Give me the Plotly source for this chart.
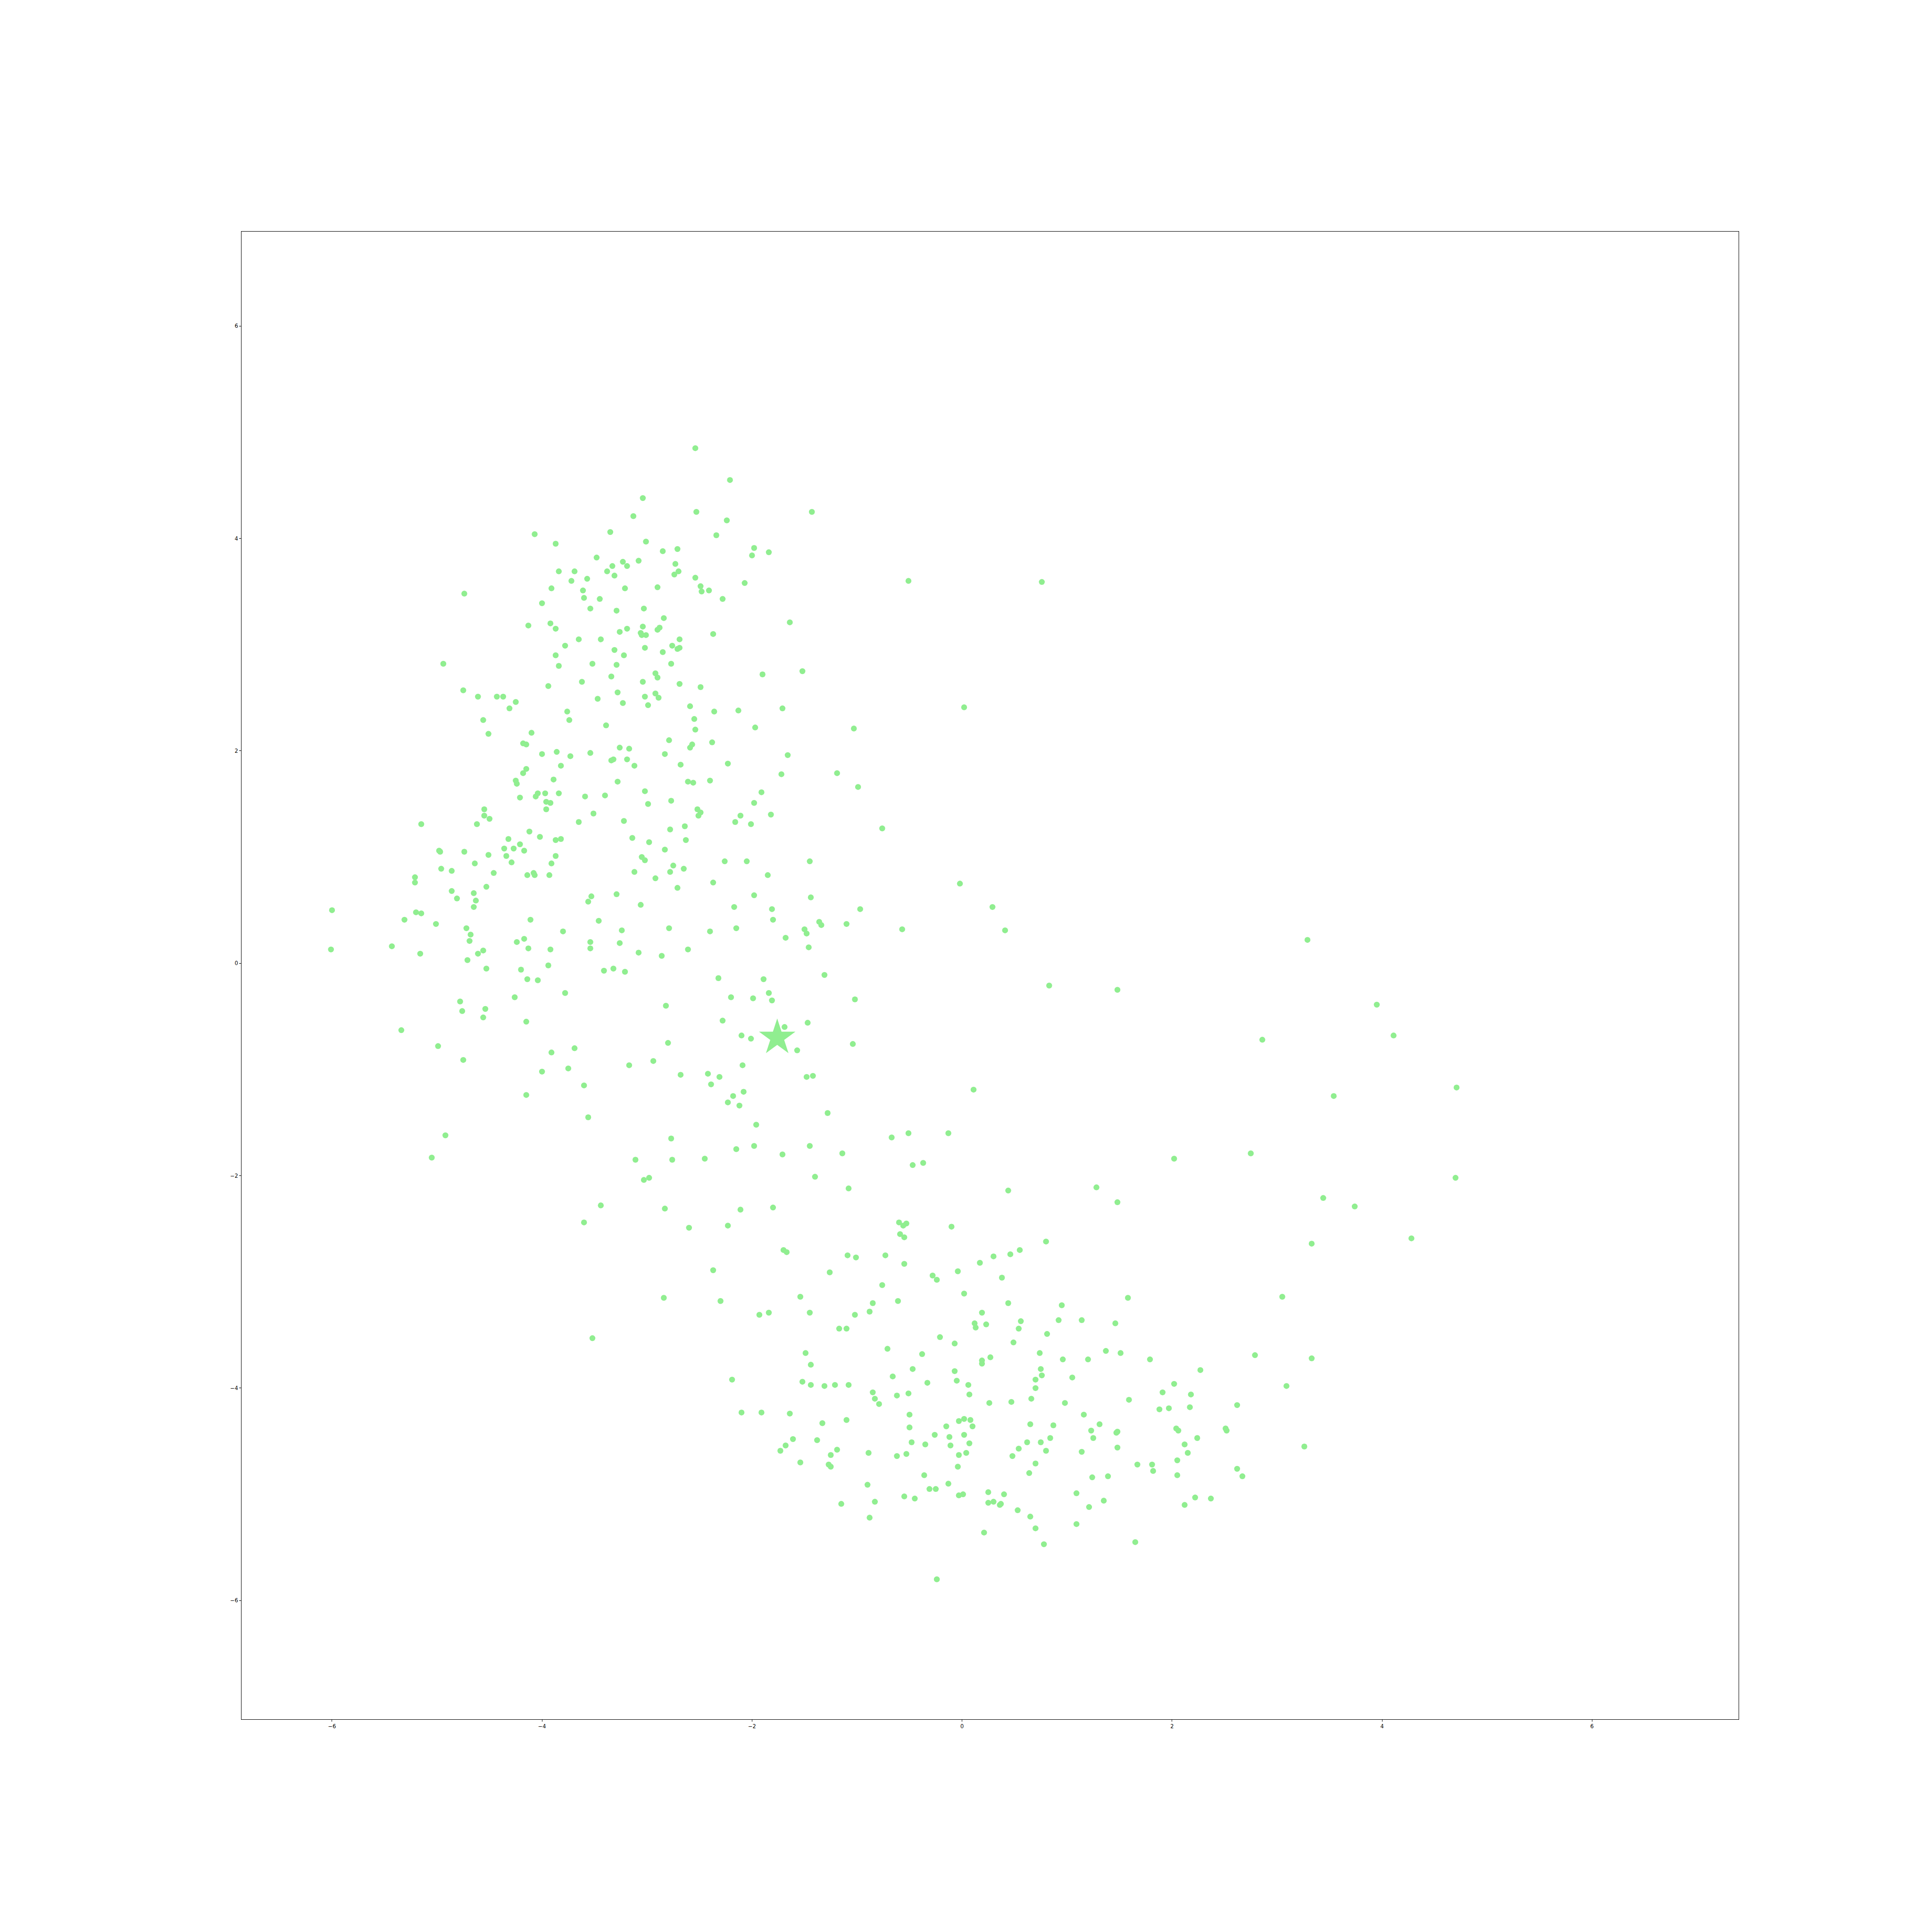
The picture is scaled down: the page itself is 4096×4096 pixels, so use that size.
import plotly.graph_objects as go

# ---- data ----
upper_left_top = [
    (-2.54,4.85),(-3.04,4.38),(-3.13,4.21),(-3.35,4.06),(-4.07,4.04),(-3.01,3.97),(-3.87,3.95),(-2.71,3.90),(-2.85,3.88),(-3.48,3.82),
    (-3.23,3.78),(-3.08,3.79),(-3.19,3.74),(-3.33,3.74),(-2.73,3.76),(-3.38,3.69),(-3.84,3.69),(-3.69,3.69),(-2.70,3.69),(-3.31,3.65),
    (-2.74,3.66),(-3.57,3.62),(-3.72,3.60),(-2.54,3.63),(-2.90,3.54),(-3.91,3.53),(-3.61,3.51),(-3.21,3.53),(-4.74,3.48),(-3.60,3.44),
    (-3.45,3.43),(-4.00,3.39),(-3.54,3.34),(-3.29,3.32),(-3.03,3.34),(-2.84,3.25),(-4.13,3.18),(-3.92,3.20),(-3.87,3.15),(-3.04,3.17),
    (-3.19,3.15),(-2.88,3.16),(-2.90,3.14),(-3.06,3.11),(-3.05,3.09),(-3.01,3.09),(-3.26,3.12),(-3.65,3.05),(-3.44,3.05),(-2.69,3.05),
    (-3.78,2.99),(-2.76,2.99),(-2.71,2.96),(-2.69,2.97),(-3.02,2.97),(-3.31,2.95),(-2.85,2.93),(-3.22,2.90),(-3.87,2.90),(-4.94,2.82),
    (-3.52,2.82),(-3.29,2.81),(-2.77,2.82),(-3.84,2.80),(-2.92,2.73),(-2.90,2.69),(-3.34,2.70),(-3.62,2.65),(-3.04,2.65),(-2.69,2.63),
    (-3.94,2.61),(-4.75,2.57),(-3.28,2.55),(-2.92,2.54),(-4.61,2.51),(-4.43,2.51),(-4.37,2.51),(-3.02,2.51),(-2.89,2.50),(-3.47,2.49),
    (-4.25,2.46),(-3.23,2.45),(-2.99,2.43),(-2.59,2.42),(-4.31,2.40),(-3.76,2.37),(-2.55,2.30),(-3.74,2.29),(-4.56,2.29),(-3.39,2.24),
    (-2.54,2.20),(-4.51,2.16),(-4.10,2.17),(-2.79,2.10),(-4.18,2.07),(-4.15,2.06),(-2.57,2.06),(-2.59,2.03),(-3.26,2.03),(-3.17,2.02),
    (-4.00,1.97),(-3.86,1.99),(-3.73,1.95),(-3.54,1.98),(-2.83,1.97),(-3.34,1.91),(-3.32,1.92),(-3.19,1.92),(-3.82,1.86),(-3.12,1.86),
    (-2.68,1.87),(-4.15,1.83),(-4.18,1.79),(-3.89,1.73),(-4.25,1.72),(-4.24,1.69),(-3.28,1.71),(-2.61,1.71),(-2.56,1.70),(-3.02,1.62),
    (-4.04,1.60),(-3.97,1.60),(-4.06,1.57),(-3.84,1.60),(-4.21,1.56),(-3.59,1.57),(-3.40,1.58),(-2.77,1.53),(-3.96,1.52),(-3.92,1.51),
    (-2.99,1.50),(-4.55,1.45),(-3.96,1.45),(-3.51,1.41),(-4.55,1.39),
]
upper_right_top = [
    (-2.21,4.55),(-2.53,4.25),(-1.43,4.25),(-2.24,4.17),(-2.34,4.03),(-1.98,3.91),(-1.84,3.87),(-2.00,3.84),(-2.49,3.55),(-2.41,3.51),
    (-2.48,3.50),(-2.07,3.58),(-0.51,3.60),(0.76,3.59),(-2.28,3.43),(-1.64,3.21),(-2.37,3.10),(-1.52,2.75),(-1.90,2.72),(-2.49,2.60),
    (-2.36,2.37),(-2.13,2.38),(-1.71,2.40),(0.02,2.41),(-1.97,2.22),(-1.03,2.21),(-2.38,2.08),(-1.66,1.96),(-2.23,1.88),(-2.40,1.72),
    (-1.72,1.78),(-1.19,1.79),(-0.99,1.66),(-1.91,1.61),(-1.98,1.51),(-2.52,1.45),(-2.49,1.42),(-2.51,1.39),(-2.11,1.39),(-1.82,1.40),
]
upper_left_mid = [
    (-5.15,1.31),(-4.62,1.31),(-4.50,1.36),(-3.65,1.33),(-3.22,1.34),(-2.78,1.26),(-2.64,1.29),(-4.12,1.24),(-4.02,1.19),(-4.32,1.17),
    (-3.87,1.16),(-3.82,1.17),(-3.14,1.18),(-2.63,1.16),(-2.98,1.14),(-4.21,1.12),(-4.36,1.08),(-4.27,1.08),(-4.17,1.06),(-4.98,1.06),
    (-4.97,1.05),(-4.74,1.05),(-4.51,1.02),(-2.83,1.07),(-4.34,1.01),(-3.87,1.01),(-3.05,1.00),(-3.02,0.97),(-4.29,0.95),(-4.64,0.94),
    (-3.91,0.94),(-2.75,0.92),(-4.96,0.89),(-4.86,0.87),(-4.46,0.85),(-4.08,0.85),(-4.07,0.83),(-4.14,0.83),(-3.93,0.83),(-3.12,0.86),
    (-2.78,0.86),(-2.65,0.89),(-2.92,0.80),(-5.21,0.81),(-5.21,0.76),(-4.53,0.72),(-2.71,0.71),(-4.86,0.68),(-4.65,0.66),(-3.29,0.65),
    (-3.53,0.63),(-4.81,0.61),(-4.63,0.59),(-3.56,0.58),(-3.06,0.55),(-4.65,0.53),(-6.00,0.50),(-5.20,0.48),(-5.15,0.47),(-5.31,0.41),
    (-4.11,0.41),(-3.46,0.40),(-5.01,0.37),(-4.72,0.33),(-2.79,0.33),(-3.80,0.30),(-3.24,0.31),(-4.68,0.27),(-4.17,0.23),(-4.69,0.21),
    (-4.24,0.20),(-3.54,0.20),(-3.26,0.19),(-6.01,0.13),(-5.43,0.16),(-4.13,0.14),(-3.92,0.13),(-3.54,0.14),(-2.61,0.13),(-4.56,0.12),
    (-4.61,0.09),(-5.16,0.09),(-3.08,0.10),(-2.86,0.07),(-4.71,0.03),(-3.94,-0.02),(-4.53,-0.05),(-4.20,-0.06),(-3.41,-0.07),(-3.32,-0.05),
    (-3.21,-0.08),(-4.14,-0.15),(-4.04,-0.16),(-3.78,-0.28),(-4.26,-0.32),(-4.78,-0.36),(-4.76,-0.45),(-4.54,-0.43),(-4.56,-0.51),(-2.82,-0.40),
    (-4.15,-0.55),(-5.34,-0.63),(-4.99,-0.78),(-2.80,-0.75),(-3.91,-0.84),(-3.69,-0.80),(-4.75,-0.91),(-2.94,-0.92),(-3.17,-0.96),(-4.00,-1.02),
    (-3.75,-0.99),(-2.68,-1.05),(-3.60,-1.15),(-4.15,-1.24),(-3.56,-1.45),(-4.92,-1.62),(-2.77,-1.65),(-5.05,-1.83),(-3.11,-1.85),(-2.76,-1.85),
    (-2.98,-2.02),(-3.03,-2.04),(-3.44,-2.28),(-2.83,-2.31),
]
centre_mid = [
    (-2.16,1.33),(-2.01,1.31),(-0.76,1.27),(-2.26,0.96),(-2.05,0.96),(-1.45,0.96),(-1.85,0.83),(-2.37,0.76),(-0.02,0.75),(-1.98,0.64),
    (-1.44,0.62),(-2.17,0.53),(-1.81,0.51),(-0.97,0.51),(0.29,0.53),(-1.80,0.41),(-1.36,0.39),(-1.34,0.36),(-1.10,0.37),(-1.50,0.32),
    (-1.48,0.28),(-0.57,0.32),(0.41,0.31),(-2.40,0.30),(-2.15,0.33),(-1.68,0.24),(-1.46,0.15),(-2.32,-0.14),(-1.89,-0.15),(-1.31,-0.11),
    (0.83,-0.21),(-1.84,-0.28),(-2.20,-0.32),(-1.99,-0.33),(-1.81,-0.35),(-1.02,-0.34),(-2.28,-0.54),(-1.47,-0.56),(-1.69,-0.60),(-2.10,-0.68),
    (-2.01,-0.71),(-1.57,-0.82),(-1.04,-0.76),(-2.09,-0.96),(-2.42,-1.04),(-2.31,-1.07),(-2.39,-1.14),(-1.48,-1.07),(-1.42,-1.06),(0.11,-1.19),
    (-2.08,-1.21),(-2.18,-1.25),(-2.23,-1.31),(-2.12,-1.34),(-1.28,-1.41),(-1.96,-1.52),(-0.67,-1.64),(-0.51,-1.60),(-0.13,-1.60),(-2.15,-1.75),
    (-1.98,-1.72),(-1.45,-1.72),(-1.71,-1.80),(-1.14,-1.79),(-2.45,-1.84),(-0.47,-1.90),(-0.37,-1.88),(-1.40,-2.01),(-1.08,-2.12),(0.44,-2.14),
    (-2.11,-2.32),(-1.80,-2.30),
]
right_mid = [
    (3.29,0.22),(1.48,-0.25),(3.95,-0.39),(2.86,-0.72),(4.11,-0.68),(4.71,-1.17),(3.54,-1.25),(2.02,-1.84),(2.75,-1.79),(1.28,-2.11),
    (1.48,-2.25),(3.44,-2.21),(3.74,-2.29),(4.70,-2.02),
]
left_low = [(-3.60,-2.44),(-2.60,-2.49),(-2.84,-3.15),(-3.52,-3.53)]
lower_left = [
    (-2.23,-2.47),(-0.60,-2.44),(-0.56,-2.47),(-0.53,-2.45),(-0.59,-2.55),(-0.55,-2.58),(-0.10,-2.48),(0.80,-2.62),(-2.37,-2.89),(-1.70,-2.70),
    (-1.67,-2.72),(-1.09,-2.75),(-1.01,-2.77),(-0.73,-2.75),(-0.55,-2.83),(0.17,-2.82),(0.30,-2.76),(0.46,-2.74),(0.55,-2.70),(-1.26,-2.91),
    (-0.28,-2.94),(-0.24,-2.98),(-0.04,-2.90),(0.38,-2.96),(-0.76,-3.03),(0.02,-3.11),(-2.30,-3.18),(-1.54,-3.14),(-0.85,-3.20),(-0.61,-3.18),
    (0.44,-3.20),(0.95,-3.22),(-0.88,-3.28),(-1.93,-3.31),(-1.84,-3.29),(-1.45,-3.29),(-1.02,-3.31),(0.19,-3.29),(0.12,-3.39),(0.13,-3.43),
    (0.23,-3.40),(0.56,-3.37),(0.54,-3.44),(0.92,-3.36),(1.14,-3.36),(-1.17,-3.44),(-1.10,-3.44),(-0.21,-3.52),(-0.07,-3.58),(0.81,-3.49),
    (0.49,-3.57),(-1.49,-3.67),(-0.71,-3.63),(-0.38,-3.68),(0.19,-3.74),(0.19,-3.77),(0.27,-3.71),(0.74,-3.67),(0.96,-3.73),(-1.44,-3.78),
    (-0.47,-3.82),(-0.07,-3.84),(0.75,-3.82),(0.76,-3.88),(1.05,-3.90),(-0.66,-3.89),(-2.19,-3.92),(-1.52,-3.94),(-1.44,-3.97),(-1.31,-3.98),
    (-1.21,-3.97),(-1.08,-3.97),(-0.33,-3.95),(-0.05,-3.93),(0.06,-3.97),(0.70,-3.92),(-0.85,-4.04),(-0.51,-4.05),(-0.62,-4.07),(0.07,-4.06),
    (0.70,-4.00),(-0.83,-4.10),(-0.79,-4.15),(0.26,-4.14),(0.47,-4.13),(0.66,-4.10),(0.98,-4.14),(-2.10,-4.23),(-1.91,-4.23),(-1.64,-4.24),
    (-0.50,-4.25),(-1.33,-4.33),(-1.10,-4.30),(-0.03,-4.31),(0.02,-4.29),(0.08,-4.30),(-0.50,-4.37),(-0.15,-4.36),(0.10,-4.36),(0.65,-4.34),
    (0.87,-4.35),(-1.61,-4.48),(-1.38,-4.49),(-0.26,-4.44),(-0.12,-4.46),(0.02,-4.44),(0.84,-4.47),(-1.68,-4.54),(-1.73,-4.59),(-1.19,-4.58),
    (-0.48,-4.51),(-0.35,-4.53),(-0.11,-4.54),(0.07,-4.52),(0.62,-4.51),(0.75,-4.51),(-1.25,-4.63),(-0.89,-4.61),(-0.62,-4.64),(-0.53,-4.62),
    (-0.03,-4.63),(0.04,-4.61),(0.54,-4.57),(0.48,-4.64),(0.80,-4.59),(1.14,-4.60),(-1.54,-4.70),(-1.27,-4.72),(-1.25,-4.74),(-0.04,-4.74),
    (0.70,-4.71),(0.64,-4.80),(-0.36,-4.82),(-0.90,-4.91),(-0.13,-4.90),(-0.31,-4.95),(-0.25,-4.95),(0.25,-4.98),(0.40,-5.00),(1.09,-4.99),
    (-0.03,-5.01),(0.01,-5.00),(-0.55,-5.02),(-0.45,-5.04),(-0.83,-5.07),(-1.15,-5.09),(0.25,-5.08),(0.30,-5.07),(0.36,-5.10),(0.37,-5.09),
    (0.53,-5.15),(0.65,-5.21),(-0.88,-5.22),(1.09,-5.28),(0.70,-5.32),(0.21,-5.36),(0.78,-5.47),(-0.24,-5.80),
]
lower_right = [
    (3.33,-2.64),(4.28,-2.59),(1.58,-3.15),(3.05,-3.14),(1.46,-3.39),(1.37,-3.65),(1.51,-3.67),(1.20,-3.73),(1.79,-3.73),(2.79,-3.69),
    (3.33,-3.72),(2.27,-3.83),(2.02,-3.96),(1.91,-4.04),(2.18,-4.06),(3.09,-3.98),(1.59,-4.11),(1.88,-4.20),(1.97,-4.19),(2.17,-4.18),
    (2.62,-4.16),(1.16,-4.25),(1.31,-4.34),(1.23,-4.40),(1.25,-4.47),(1.47,-4.42),(1.48,-4.41),(2.04,-4.38),(2.06,-4.40),(2.24,-4.47),
    (2.51,-4.38),(2.52,-4.40),(3.26,-4.55),(2.12,-4.53),(1.48,-4.56),(2.15,-4.61),(2.05,-4.68),(1.67,-4.72),(1.81,-4.72),(1.82,-4.78),
    (2.62,-4.76),(2.67,-4.83),(1.24,-4.84),(1.39,-4.83),(2.05,-4.82),(1.35,-5.06),(1.21,-5.12),(2.22,-5.03),(2.37,-5.04),(2.12,-5.10),
    (1.65,-5.45),
]
star_x = [-1.76]
star_y = [-0.70]

x_ticks = [-6, -4, -2, 0, 2, 4, 6]
y_ticks = [-6, -4, -2, 0, 2, 4, 6]

points = (upper_left_top + upper_right_top + upper_left_mid + centre_mid
          + right_mid + left_low + lower_left + lower_right)
xs = [p[0] for p in points]
ys = [p[1] for p in points]

COLOR = "#90EE90"

fig = go.Figure()
fig.add_trace(go.Scatter(
    x=xs, y=ys, mode="markers",
    marker=dict(color=COLOR, size=12.5, line=dict(width=0)),
    hoverinfo="skip", showlegend=False,
))
fig.add_trace(go.Scatter(
    x=star_x, y=star_y, mode="markers",
    marker=dict(color=COLOR, size=58, symbol="star", line=dict(width=0)),
    hoverinfo="skip", showlegend=False,
))

axis_common = dict(
    showgrid=False, zeroline=False,
    showline=True, mirror=True, linecolor="black", linewidth=1,
    ticks="outside", ticklen=4, tickwidth=1, tickcolor="black",
    tickfont=dict(family="DejaVu Sans", size=11.4, color="black"),
)
fig.update_xaxes(range=[-6.862, 7.396], tickmode="array", tickvals=x_ticks, **axis_common)
fig.update_yaxes(range=[-7.118, 6.889], tickmode="array", tickvals=y_ticks, **axis_common)

fig.update_layout(
    width=4096, height=4096,
    margin=dict(l=512, r=410, t=491, b=451, pad=0),
    paper_bgcolor="white", plot_bgcolor="white",
    showlegend=False,
)

fig.write_html("out.html")
